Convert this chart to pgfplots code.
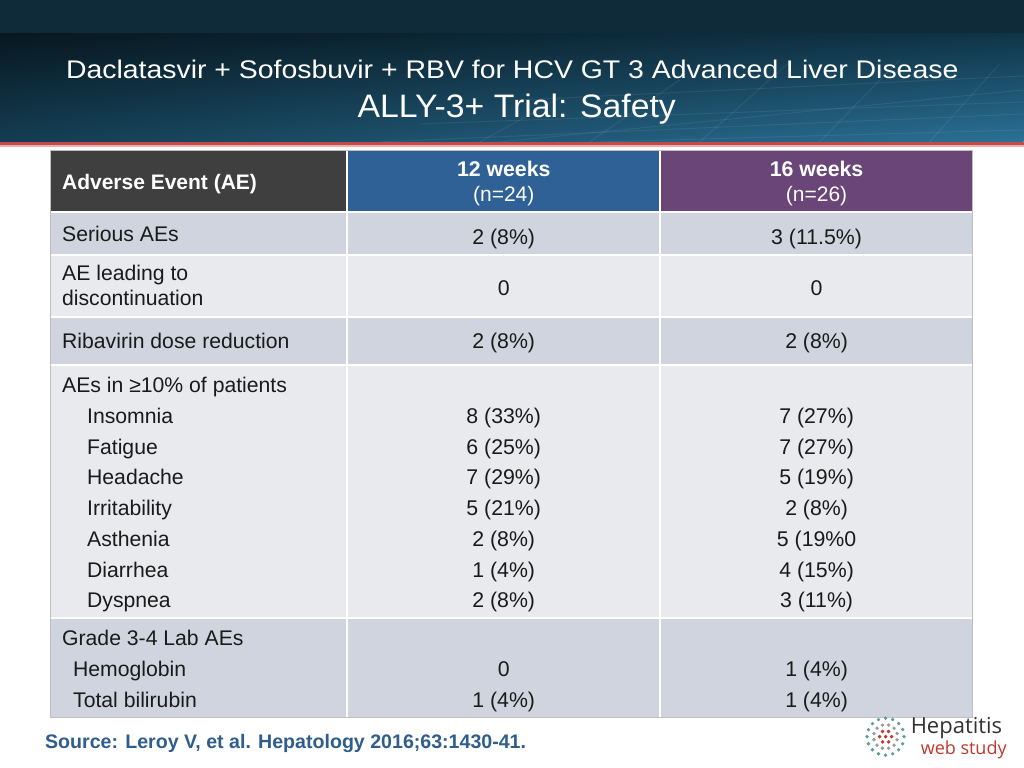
\documentclass[border=0pt]{standalone}
\usepackage{fontspec}
\setmainfont{Liberation Sans}
\newfontfamily\logofont{Open Sans}
\usepackage{pgfplots}
\pgfplotsset{compat=1.18}
\usetikzlibrary{shadings}
\definecolor{bandtop}{HTML}{0F2B3A}
\definecolor{bandUL}{HTML}{081820}
\definecolor{bandUR}{HTML}{103548}
\definecolor{bandLL}{HTML}{143D52}
\definecolor{bandLR}{HTML}{2B7197}
\definecolor{redline}{HTML}{C44A4A}
\definecolor{pinkline}{HTML}{E9B0B0}
\definecolor{hdA}{HTML}{3F3F3F}
\definecolor{hdB}{HTML}{2F6196}
\definecolor{hdC}{HTML}{6A4577}
\definecolor{rowD}{HTML}{CFD4DE}
\definecolor{rowL}{HTML}{E9EAEE}
\definecolor{srcblue}{HTML}{2F5E8C}
\definecolor{logored}{HTML}{C0392B}
\definecolor{logoteal}{HTML}{5E9C9A}
\definecolor{logogray}{HTML}{9A9A9A}
\definecolor{txt}{HTML}{1A1A1A}
\newcommand\fs[1]{\fontsize{#1bp}{#1bp}\selectfont}
\newcommand\cellrow[3]{%
  \fill[#3] (51,#1) rectangle (346.5,#2);
  \fill[#3] (348.5,#1) rectangle (659.5,#2);
  \fill[#3] (661.5,#1) rectangle (972,#2);}
\newcommand\vals[3]{%
  \node[anchor=base,txt,inner sep=0] at (504,#1) {\fs{21.3}#2};
  \node[anchor=base,txt,inner sep=0] at (817,#1) {\fs{21.3}#3};}
\newcommand\lab[3]{\node[anchor=base west,txt,inner sep=0] at (#1,#2) {\fs{21.2}#3};}
\begin{document}
\begin{tikzpicture}
\begin{axis}[width=1024bp,height=768bp,scale only axis,
  xmin=0,xmax=1024,ymin=0,ymax=768,y dir=reverse,
  axis lines=none,ticks=none,clip=false]
% background
\fill[white] (0,0) rectangle (1024,768);
\fill[bandtop] (0,0) rectangle (1024,34);
\shade[upper left=bandUL,upper right=bandUR,lower left=bandLL,lower right=bandLR] (0,34) rectangle (1024,142);
% faint perspective grid
\draw[white,opacity=0.07,line width=1pt] (500,142) -- (1024,90);
\draw[white,opacity=0.07,line width=1pt] (380,142) -- (1024,114);
\draw[white,opacity=0.07,line width=1pt] (600,142) -- (1024,130);
\draw[white,opacity=0.07,line width=1pt] (420,124) -- (1024,102);
\draw[white,opacity=0.07,line width=1pt] (520,100) -- (1024,76);
\draw[white,opacity=0.07,line width=1pt] (700,142) -- (790,62);
\draw[white,opacity=0.07,line width=1pt] (820,142) -- (900,60);
\draw[white,opacity=0.07,line width=1pt] (930,142) -- (1000,64);
\draw[white,opacity=0.07,line width=1pt] (590,142) -- (680,80);
\draw[white,opacity=0.07,line width=1pt] (480,142) -- (560,98);
\fill[redline] (0,142) rectangle (1024,145.5);
\fill[pinkline] (0,145.5) rectangle (1024,147);
% title
\node[anchor=base,white,inner sep=0,xscale=1.115] at (512.5,79) {\fs{25.5}Daclatasvir + Sofosbuvir + RBV for HCV GT 3 Advanced Liver Disease};
\node[anchor=base,white,inner sep=0,xscale=1.04] at (517,118) {\fs{32.5}ALLY-3+ Trial: Safety};
% table outline
\draw[gray!50,line width=0.8pt] (50.5,150.5) rectangle (972.5,717.5);
% header
\fill[hdA] (51,151) rectangle (346.5,211);
\fill[hdB] (348.5,151) rectangle (659.5,211);
\fill[hdC] (661.5,151) rectangle (972,211);
% rows
\cellrow{213.5}{254.5}{rowD}
\cellrow{256.5}{316.5}{rowL}
\cellrow{318.5}{364.5}{rowD}
\cellrow{366.5}{617.5}{rowL}
\cellrow{619.5}{717}{rowD}
% header text
\node[anchor=base west,white,inner sep=0] at (62,190) {\fs{21}\bfseries Adverse Event (AE)};
\node[anchor=base,white,inner sep=0] at (504,177) {\fs{21.3}\bfseries 12 weeks};
\node[anchor=base,white,inner sep=0] at (504,202) {\fs{21}(n=24)};
\node[anchor=base,white,inner sep=0] at (817,177) {\fs{21.3}\bfseries 16 weeks};
\node[anchor=base,white,inner sep=0] at (817,202) {\fs{21}(n=26)};
% left column
\lab{62}{242}{Serious AEs}
\lab{62}{281}{AE leading to}
\lab{62}{306}{discontinuation}
\lab{62}{349}{Ribavirin dose reduction}
\lab{62}{393}{AEs in ≥10\% of patients}
\lab{87}{424}{Insomnia}
\lab{87}{455}{Fatigue}
\lab{87}{485}{Headache}
\lab{87}{516}{Irritability}
\lab{87}{547}{Asthenia}
\lab{87}{578}{Diarrhea}
\lab{87}{608}{Dyspnea}
\lab{62}{646}{Grade 3-4 Lab AEs}
\lab{73}{677}{Hemoglobin}
\lab{73}{708}{Total bilirubin}
% values
\vals{245}{2 (8\%)}{3 (11.5\%)}
\vals{296}{0}{0}
\vals{349}{2 (8\%)}{2 (8\%)}
\vals{424}{8 (33\%)}{7 (27\%)}
\vals{455}{6 (25\%)}{7 (27\%)}
\vals{485}{7 (29\%)}{5 (19\%)}
\vals{516}{5 (21\%)}{2 (8\%)}
\vals{547}{2 (8\%)}{5 (19\%0}
\vals{578}{1 (4\%)}{4 (15\%)}
\vals{608}{2 (8\%)}{3 (11\%)}
\vals{677}{0}{1 (4\%)}
\vals{708}{1 (4\%)}{1 (4\%)}
% source
\node[anchor=base west,srcblue,inner sep=0] at (45,749) {\fs{19.6}\bfseries Source: Leroy V, et al. Hepatology 2016;63:1430-41.};
% logo dots
\addplot[only marks,mark=*,mark size=1.6,color=logored] coordinates {(886,737)(892,737)(889,731.8)(883,731.8)(880,737)(883,742.2)(889,742.2)};
\addplot[only marks,mark=*,mark size=1.5,color=logogray] coordinates {(897.6,733.9)(894.5,728.5)(889.1,725.4)(882.9,725.4)(877.5,728.5)(874.4,733.9)(874.4,740.1)(877.5,745.5)(882.9,748.6)(889.1,748.6)(894.5,745.5)(897.6,740.1)};
\addplot[only marks,mark=*,mark size=1.5,color=logoteal] coordinates {(904.5,737)(903.1,729.9)(899.1,723.9)(893.1,719.9)(886,718.5)(878.9,719.9)(872.9,723.9)(868.9,729.9)(867.5,737)(868.9,744.1)(872.9,750.1)(878.9,754.1)(886,755.5)(893.1,754.1)(899.1,750.1)(903.1,744.1)};
\node[anchor=base west,inner sep=0,text=black!80] at (911,734) {\logofont\fs{22}Hepatitis};
\node[anchor=base west,inner sep=0,logored] at (921,754.5) {\logofont\fs{18}web study};
\end{axis}
\end{tikzpicture}
\end{document}
